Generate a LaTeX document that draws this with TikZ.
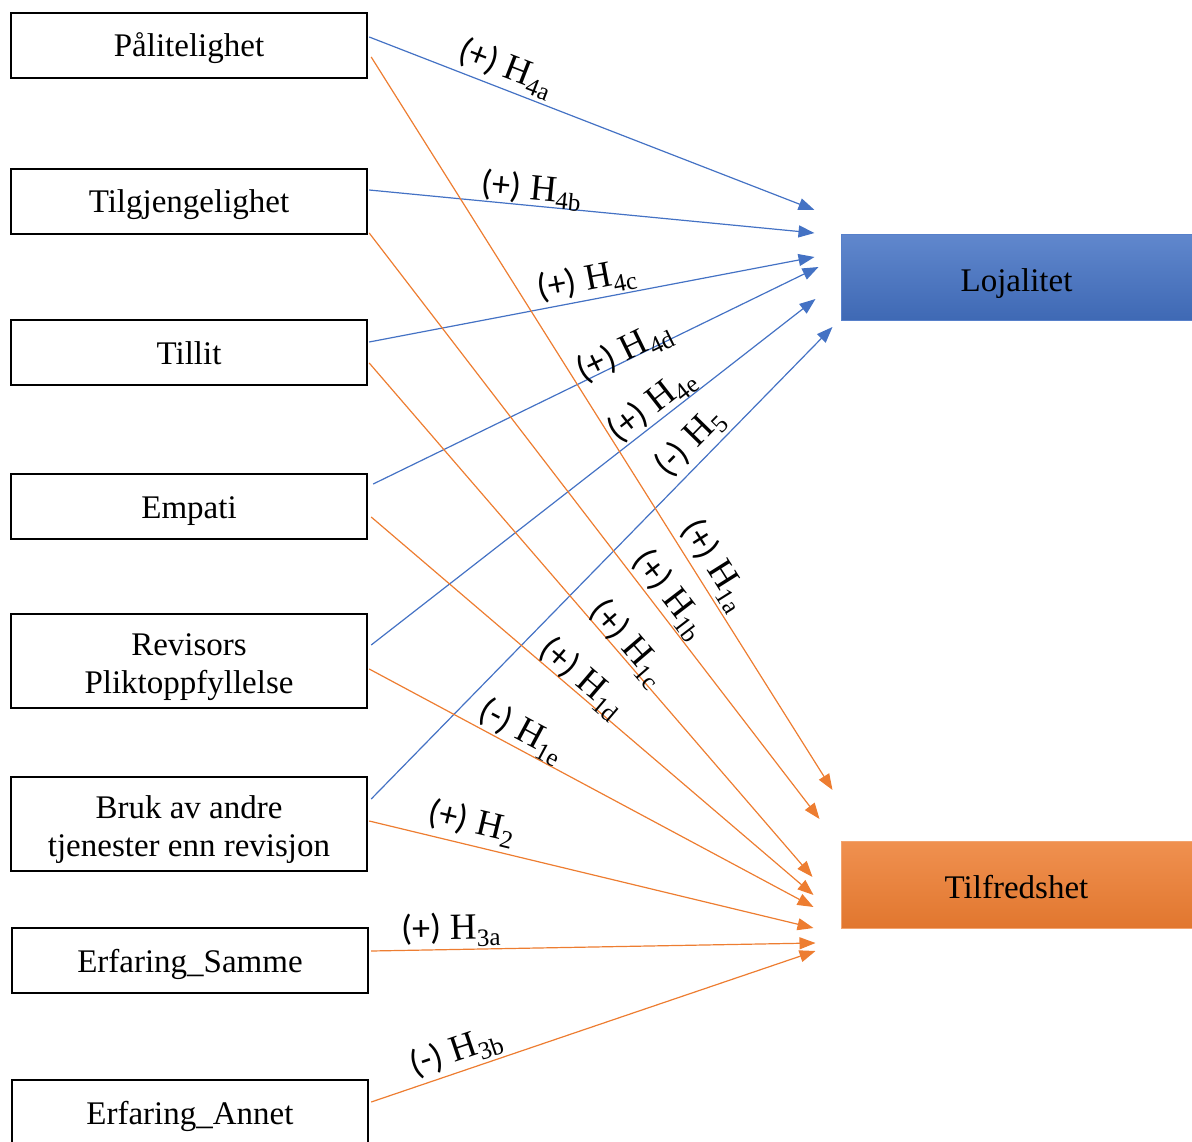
\documentclass[tikz,border=0pt]{standalone}
\usepackage{fontspec}
\setmainfont{Liberation Serif}
\newfontfamily\carlitofont{Carlito}
\usetikzlibrary{arrows.meta,calc}
\definecolor{lblue}{HTML}{4472C4}
\definecolor{lorange}{HTML}{ED7D31}
\newcommand\hyplab[2]{{\carlitofont\fontsize{36}{40}\selectfont(#1)}\hspace{9pt}{\fontsize{37}{40}\selectfont H}\raisebox{-7pt}{\fontsize{25}{28}\selectfont #2}}
\newcommand\firststrut{\rule{0pt}{34pt}}
\begin{document}
\begin{tikzpicture}[x=1pt,y=-1pt,
  boxbase/.style={draw=black, line width=2.4pt, minimum width=356pt, inner sep=0pt, font=\fontsize{33}{38}\selectfont, align=center},
  box/.style={boxbase, minimum height=65pt, text height=25pt, text depth=2pt},
  bigbox/.style={boxbase, minimum height=94pt},
  target/.style={minimum width=351pt, inner sep=0pt, font=\fontsize{33}{38}\selectfont, line width=1pt, text height=28pt, text depth=1pt},
  bl/.style={draw=lblue, line width=1.2pt, -{Triangle[length=16pt,width=12pt]}},
  ol/.style={draw=lorange, line width=1.2pt, -{Triangle[length=16pt,width=12pt]}},
  lab/.style={sloped, inner sep=0pt, anchor=center}]
\useasboundingbox (0,0) rectangle (1192,1142);
% left boxes
\node[box] (p1) at (189,45.5) {Pålitelighet};
\node[box] (p2) at (189,201.5) {Tilgjengelighet};
\node[box] (p3) at (189,352.5) {Tillit};
\node[box] (p4) at (189,506.5) {Empati};
\node[bigbox] (p5) at (189,661) {\firststrut Revisors\\Pliktoppfyllelse};
\node[bigbox] (p6) at (189,824) {\firststrut Bruk av andre\\tjenester enn revisjon};
\node[box] (p7) at (190,960.5) {Erfaring\_Samme};
\node[box] (p8) at (190,1112.5) {Erfaring\_Annet};
% targets
\node[target, minimum height=85pt, draw=lblue!90!white, top color=lblue!85!white, bottom color=lblue!92!black] (loj) at (1016.5,277.5) {Lojalitet};
\node[target, minimum height=87pt, draw=lorange!70!white, top color=lorange!85!white, bottom color=lorange!95!black] (til) at (1016.5,884.5) {Tilfredshet};
% blue connectors
\draw[bl] ($(p1.east)+(1,-8.5)$) -- node[pos=0.29, above=20.5pt, lab] {\hyplab{+}{4a}} ($(loj.west)+(-26,-67.5)$);
\draw[bl] ($(p2.east)+(1,-11.5)$) -- node[pos=0.361, above=15.6pt, lab] {\hyplab{+}{4b}} ($(loj.west)+(-26,-44.5)$);
\draw[bl] ($(p3.east)+(1,-10.5)$) -- node[pos=0.496, above=19.2pt, lab] {\hyplab{+}{4c}} ($(loj.west)+(-26,-20.5)$);
\draw[bl] ($(p4.east)+(5,-22.5)$) -- node[pos=0.572, above=8.7pt, lab] {\hyplab{+}{4d}} ($(loj.west)+(-22,-10.5)$);
\draw[bl] ($(p5.east)+(3,-16)$) -- node[pos=0.655, above=16.8pt, lab] {\hyplab{+}{4e}} ($(loj.west)+(-25,21.5)$);
\draw[bl] ($(p6.east)+(3,-25)$) -- node[pos=0.723, above=20.9pt, lab] {\hyplab{-}{5}} ($(loj.west)+(-8,49.5)$);
% orange connectors
\draw[ol] ($(p1.east)+(3,11.5)$) -- node[pos=0.708, above=20.4pt, lab] {\hyplab{+}{1a}} ($(til.west)+(-8,-94.5)$);
\draw[ol] ($(p2.east)+(1,31.5)$) -- node[pos=0.636, above=18pt, lab] {\hyplab{+}{1b}} ($(til.west)+(-21,-65.5)$);
\draw[ol] ($(p3.east)+(1,10.5)$) -- node[pos=0.562, above=13.3pt, lab] {\hyplab{+}{1c}} ($(til.west)+(-28,-7.5)$);
\draw[ol] ($(p4.east)+(3,10.5)$) -- node[pos=0.455, above=14.2pt, lab] {\hyplab{+}{1d}} ($(til.west)+(-27,10.5)$);
\draw[ol] ($(p5.east)+(1,8)$) -- node[pos=0.325, above=17.3pt, lab] {\hyplab{-}{1e}} ($(til.west)+(-27,22.5)$);
\draw[ol] ($(p6.east)+(1,-3)$) -- node[pos=0.219, above=22.1pt, lab] {\hyplab{+}{2}} ($(til.west)+(-27,43.5)$);
\draw[ol] ($(p7.east)+(2,-9.5)$) -- node[pos=0.18, above=19.6pt, lab] {\hyplab{+}{3a}} ($(til.west)+(-25,58.5)$);
\draw[ol] ($(p8.east)+(2,-10.5)$) -- node[pos=0.205, above=20.1pt, lab] {\hyplab{-}{3b}} ($(til.west)+(-25,66.5)$);
\end{tikzpicture}
\end{document}
